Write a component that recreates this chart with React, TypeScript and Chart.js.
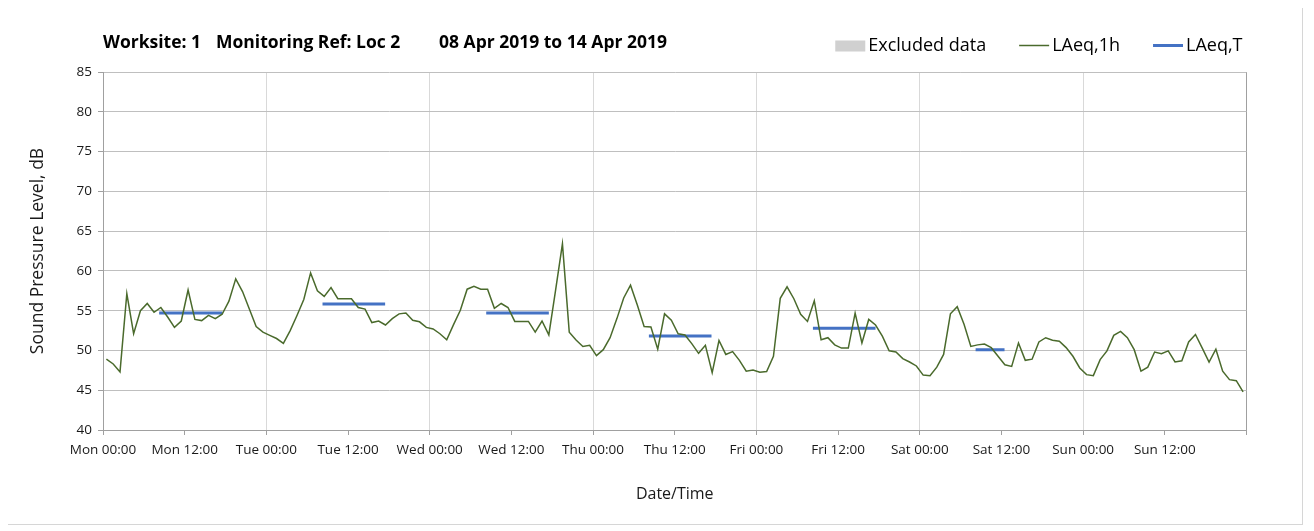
import React, { useEffect, useRef } from 'react';
import { Chart, registerables } from 'chart.js';

Chart.register(...registerables);

// ---- Data ----
const dayNames = ['Mon', 'Tue', 'Wed', 'Thu', 'Fri', 'Sat', 'Sun'];

// Hourly LAeq,1h values, Mon 00:00 -> Sun 23:00 (one per hour)
const laeq1h: number[] = [
  48.9, 48.3, 47.3, 57.15, 52.1, 55.0, 55.9, 54.8, 55.4, 54.2, 52.9, 53.7,
  57.6, 53.9, 53.75, 54.4, 54.0, 54.55, 56.2, 59.0, 57.4, 55.2, 53.0, 52.3,
  51.9, 51.5, 50.9, 52.5, 54.4, 56.4, 59.75, 57.5, 56.8, 57.9, 56.5, 56.5,
  56.5, 55.4, 55.2, 53.5, 53.7, 53.2, 54.0, 54.6, 54.7, 53.8, 53.6, 52.9,
  52.7, 52.1, 51.35, 53.25, 55.05, 57.7, 58.05, 57.7, 57.7, 55.3, 55.9, 55.4,
  53.65, 53.65, 53.65, 52.3, 53.7, 51.95, 57.6, 63.4, 52.3, 51.3, 50.5, 50.65,
  49.35, 50.1, 51.6, 54.0, 56.6, 58.2, 55.7, 53.0, 52.95, 50.15, 54.6, 53.8,
  52.1, 51.95, 50.86, 49.64, 50.65, 47.2, 51.25, 49.5, 49.85, 48.75, 47.4, 47.55,
  47.25, 47.35, 49.27, 56.55, 58.0, 56.5, 54.55, 53.65, 56.25, 51.35, 51.6, 50.7,
  50.3, 50.3, 54.7, 50.95, 53.9, 53.2, 51.8, 49.95, 49.8, 48.97, 48.55, 48.05,
  46.9, 46.83, 47.9, 49.5, 54.6, 55.5, 53.3, 50.5, 50.7, 50.8, 50.35, 49.27,
  48.2, 48.0, 50.94, 48.76, 48.9, 51.07, 51.6, 51.28, 51.15, 50.36, 49.27, 47.8,
  46.96, 46.83, 48.85, 49.94, 51.9, 52.4, 51.6, 50.1, 47.4, 47.9, 49.8, 49.6,
  49.94, 48.55, 48.7, 51.07, 52.0, 50.3, 48.55, 50.15, 47.4, 46.33, 46.2, 44.78,
];

// LAeq,T daytime periods (day index, from hour, to hour, level)
const laeqTDay = [0, 1, 2, 3, 4, 5];
const laeqTFrom = [8.25, 8.25, 8.3, 8.2, 8.3, 8.2];
const laeqTTo = [17.55, 17.45, 17.5, 17.4, 17.5, 12.45];
const laeqTValues = [54.7, 55.85, 54.7, 51.8, 52.8, 50.1];

const titleParts = ['Worksite: 1', 'Monitoring Ref: Loc 2', '08 Apr 2019 to 14 Apr 2019'];
const legendLabels = ['Excluded data', 'LAeq,1h', 'LAeq,T'];
const yAxisTitle = 'Sound Pressure Level, dB';
const xAxisTitle = 'Date/Time';

const FONT = '"Open Sans", "DejaVu Sans", sans-serif';
const GREEN = '#4a6a2c';
const BLUE = '#4472c4';

const headerPlugin = {
  id: 'headerPlugin',
  afterDraw(chart: any) {
    const { ctx, chartArea } = chart;
    ctx.save();
    // Title
    ctx.fillStyle = '#000';
    ctx.textBaseline = 'middle';
    ctx.textAlign = 'left';
    ctx.font = `bold 17.5px ${FONT}`;
    const titleOffsets = [0, 113, 336];
    titleParts.forEach((t, i) => ctx.fillText(t, chartArea.left + titleOffsets[i], 37));

    // Legend (right aligned)
    ctx.font = `18px ${FONT}`;
    const y = 39.5;
    const markerW = 30;
    const gapMT = 3;
    const gapItems = 33;
    const widths = legendLabels.map((l) => ctx.measureText(l).width);
    let x = chartArea.right - 4;
    const starts: number[] = [];
    for (let i = legendLabels.length - 1; i >= 0; i--) {
      x -= widths[i] + gapMT + markerW;
      starts[i] = x;
      x -= gapItems;
    }
    legendLabels.forEach((label, i) => {
      const sx = starts[i];
      if (i === 0) {
        ctx.fillStyle = '#d0d0d0';
        ctx.fillRect(sx, y - 5, markerW, 11);
      } else {
        ctx.strokeStyle = i === 1 ? GREEN : BLUE;
        ctx.lineWidth = i === 1 ? 1.5 : 3;
        ctx.beginPath();
        ctx.moveTo(sx, y);
        ctx.lineTo(sx + markerW, y);
        ctx.stroke();
      }
      ctx.fillStyle = '#000';
      ctx.fillText(label, sx + markerW + gapMT, y);
    });
    ctx.restore();
  },
};

export default function App() {
  const canvasRef = useRef<HTMLCanvasElement | null>(null);

  useEffect(() => {
    if (!canvasRef.current) return;

    const hourlyPoints = laeq1h.map((v, i) => ({ x: i + 0.5, y: v }));
    const tPoints: { x: number; y: number | null }[] = [];
    laeqTDay.forEach((d, i) => {
      tPoints.push({ x: d * 24 + laeqTFrom[i], y: laeqTValues[i] });
      tPoints.push({ x: d * 24 + laeqTTo[i], y: laeqTValues[i] });
      tPoints.push({ x: d * 24 + laeqTTo[i] + 0.01, y: null });
    });

    const chart = new Chart(canvasRef.current, {
      type: 'line',
      data: {
        datasets: [
          {
            label: 'Excluded data',
            data: [],
            backgroundColor: '#d0d0d0',
            borderWidth: 0,
          },
          {
            label: 'LAeq,1h',
            data: hourlyPoints,
            borderColor: GREEN,
            borderWidth: 1.5,
            pointRadius: 0,
            tension: 0,
          },
          {
            label: 'LAeq,T',
            data: tPoints as any,
            borderColor: BLUE,
            borderWidth: 3,
            pointRadius: 0,
            spanGaps: false,
            borderCapStyle: 'butt',
          },
        ],
      },
      options: {
        animation: false,
        responsive: true,
        maintainAspectRatio: false,
        layout: { padding: { top: 66, right: 55.5, left: 0, bottom: 0 } },
        plugins: {
          legend: { display: false },
          title: { display: false },
          tooltip: { enabled: false },
        },
        scales: {
          x: {
            type: 'linear',
            min: 0,
            max: 168,
            afterFit: (scale: any) => {
              scale.height = 94;
            },
            ticks: {
              stepSize: 12,
              autoSkip: false,
              maxRotation: 0,
              minRotation: 0,
              padding: 7,
              color: '#1a1a1a',
              font: { family: FONT, size: 13.5 },
              callback: (v: any) => {
                const n = Number(v);
                if (n >= 168) return '';
                const day = dayNames[Math.floor(n / 24)];
                return `${day} ${n % 24 === 0 ? '00:00' : '12:00'}`;
              },
            },
            grid: {
              drawOnChartArea: true,
              tickLength: 5,
              tickColor: '#a0a0a0',
              color: (ctx: any) => {
                const v = ctx.tick ? ctx.tick.value : 0;
                if (v === 168) return '#a0a0a0';
                return v % 24 === 0 ? '#d9d9d9' : 'rgba(0,0,0,0)';
              },
            },
            border: { display: true, color: '#a0a0a0', width: 1 },
            title: {
              display: true,
              text: xAxisTitle,
              color: '#1a1a1a',
              font: { family: FONT, size: 16 },
              padding: { top: 0, bottom: 20.4 },
            },
          },
          y: {
            min: 40,
            max: 85,
            afterFit: (scale: any) => {
              scale.width = 98;
            },
            ticks: {
              stepSize: 5,
              padding: 6,
              color: '#1a1a1a',
              font: { family: FONT, size: 13.5 },
            },
            grid: {
              color: '#bfbfbf',
              tickLength: 5,
              tickColor: '#a0a0a0',
            },
            border: { display: true, color: '#a0a0a0', width: 1 },
            title: {
              display: true,
              text: yAxisTitle,
              color: '#1a1a1a',
              font: { family: FONT, size: 17.5 },
              padding: { top: 22.5, bottom: 0 },
            },
          },
        },
      },
      plugins: [headerPlugin],
    });

    return () => chart.destroy();
  }, []);

  return (
    <div
      style={{
        position: 'relative',
        left: -4,
        top: -3,
        width: 1299,
        height: 520,
        border: '1px solid #d6d6d6',
        boxSizing: 'border-box',
        background: '#fff',
      }}
    >
      <canvas ref={canvasRef} />
    </div>
  );
}
